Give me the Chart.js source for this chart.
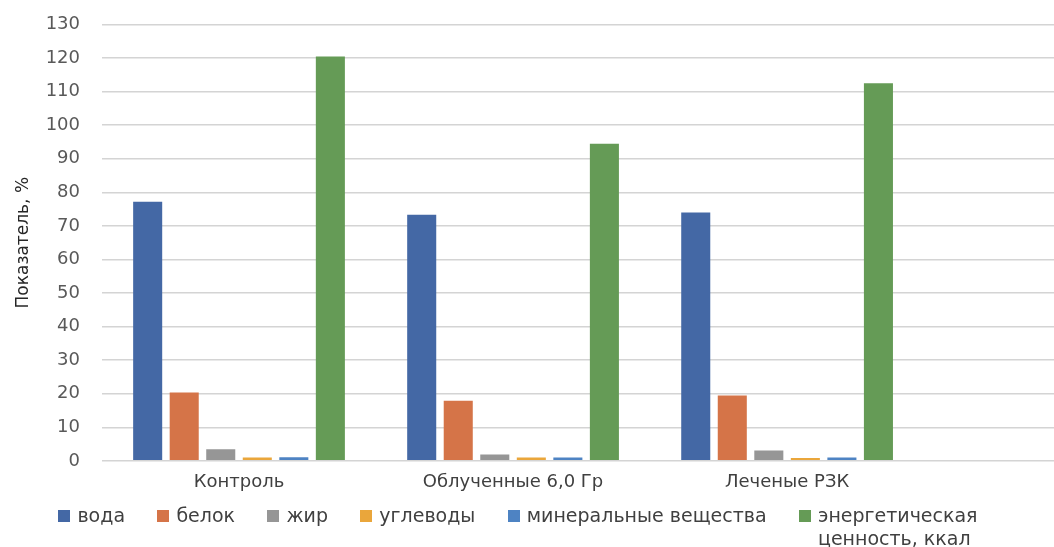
<!DOCTYPE html>
<html lang="ru">
<head>
<meta charset="utf-8">
<title>Показатели</title>
<script src="https://cdn.jsdelivr.net/npm/chart.js@4/dist/chart.umd.min.js"></script>
<style>
  html, body { margin: 0; padding: 0; background: #ffffff; }
  #wrap { position: relative; width: 1054px; height: 547px; overflow: hidden; }
  #chart { display: block; }
  #legend {
    position: absolute; left: 0; top: 504px; width: 1054px;
    box-sizing: border-box; padding-right: 18px;
    display: flex; justify-content: center; align-items: flex-start;
    font-family: "DejaVu Sans", sans-serif; font-size: 19px; line-height: 23px; color: #404040;
  }
  .item { display: flex; align-items: flex-start; margin: 0 16.2px; }
  .box { width: 12px; height: 12px; margin-top: 6px; margin-right: 7px; flex: none; }
  .txt { white-space: nowrap; }
</style>
</head>
<body>
<div id="wrap">
  <canvas id="chart" width="1054" height="547"></canvas>
  <div id="legend"></div>
</div>
<script>
// Groups along the horizontal axis
const categories = ['Контроль', 'Облученные 6,0 Гр', 'Леченые РЗК'];

// Series names (the last one wraps onto two lines in the legend)
const seriesNames = ['вода', 'белок', 'жир', 'углеводы', 'минеральные вещества', ['энергетическая', 'ценность, ккал']];

// Values per series, one per group
const voda       = [77.2, 73.3, 74.0];
const belok      = [20.4, 17.9, 19.5];
const zhir       = [3.5, 1.9, 3.1];
const uglevody   = [1.0, 1.0, 0.9];
const mineraly   = [1.1, 1.0, 1.0];
const energiya   = [120.5, 94.5, 112.5];

// Value axis ticks
const yTicks = [0, 10, 20, 30, 40, 50, 60, 70, 80, 90, 100, 110, 120, 130];

const seriesValues = [voda, belok, zhir, uglevody, mineraly, energiya];
const seriesColors = ['#4468a5', '#d57448', '#969696', '#eaa63b', '#4e83c3', '#659b56'];

const FONT = '"DejaVu Sans", sans-serif';

const datasets = seriesValues.map((vals, i) => ({
  label: seriesNames[i],
  data: vals.map((v, j) => ({ x: j, y: v })),
  backgroundColor: seriesColors[i],
  borderWidth: 0,
  categoryPercentage: 0.80,
  barPercentage: 0.795
}));

const chart = new Chart(document.getElementById('chart'), {
  type: 'bar',
  data: { datasets },
  options: {
    responsive: false,
    animation: false,
    layout: { padding: { top: 24.5, right: 0, bottom: 42.5, left: 0 } },
    plugins: {
      legend: { display: false },
      tooltip: { enabled: false }
    },
    scales: {
      x: {
        type: 'linear',
        offset: false,
        min: -0.5,
        max: 2.974,
        grid: { display: false, drawTicks: false, offset: false },
        border: { display: false },
        afterBuildTicks: (scale) => { scale.ticks = categories.map((c, i) => ({ value: i })); },
        ticks: {
          autoSkip: false,
          maxRotation: 0,
          padding: 11,
          color: '#404040',
          font: { family: FONT, size: 18 },
          callback: (v) => categories[v]
        }
      },
      y: {
        min: yTicks[0],
        max: yTicks[yTicks.length - 1],
        afterBuildTicks: (scale) => { scale.ticks = yTicks.map(v => ({ value: v })); },
        afterFit: (scale) => {
          scale.width = 102;
          // only the half label height may overhang the plot edges
          scale.paddingTop = 11;
          scale.paddingBottom = 11;
        },
        grid: { color: '#d4d4d4', lineWidth: 1.6, drawTicks: false },
        border: { display: false },
        ticks: {
          padding: 22,
          color: '#595959',
          font: { family: FONT, size: 18 }
        },
        title: {
          display: true,
          text: 'Показатель, %',
          color: '#262626',
          padding: { top: 13, bottom: 0 },
          font: { family: FONT, size: 17 }
        }
      }
    }
  }
});

// Legend built from the chart's own datasets
const legend = document.getElementById('legend');
chart.data.datasets.forEach((ds) => {
  const item = document.createElement('div');
  item.className = 'item';
  const box = document.createElement('span');
  box.className = 'box';
  box.style.background = ds.backgroundColor;
  const txt = document.createElement('span');
  txt.className = 'txt';
  const lines = Array.isArray(ds.label) ? ds.label : [ds.label];
  lines.forEach((line, k) => {
    if (k) txt.appendChild(document.createElement('br'));
    txt.appendChild(document.createTextNode(line));
  });
  item.appendChild(box);
  item.appendChild(txt);
  legend.appendChild(item);
});
</script>
</body>
</html>
